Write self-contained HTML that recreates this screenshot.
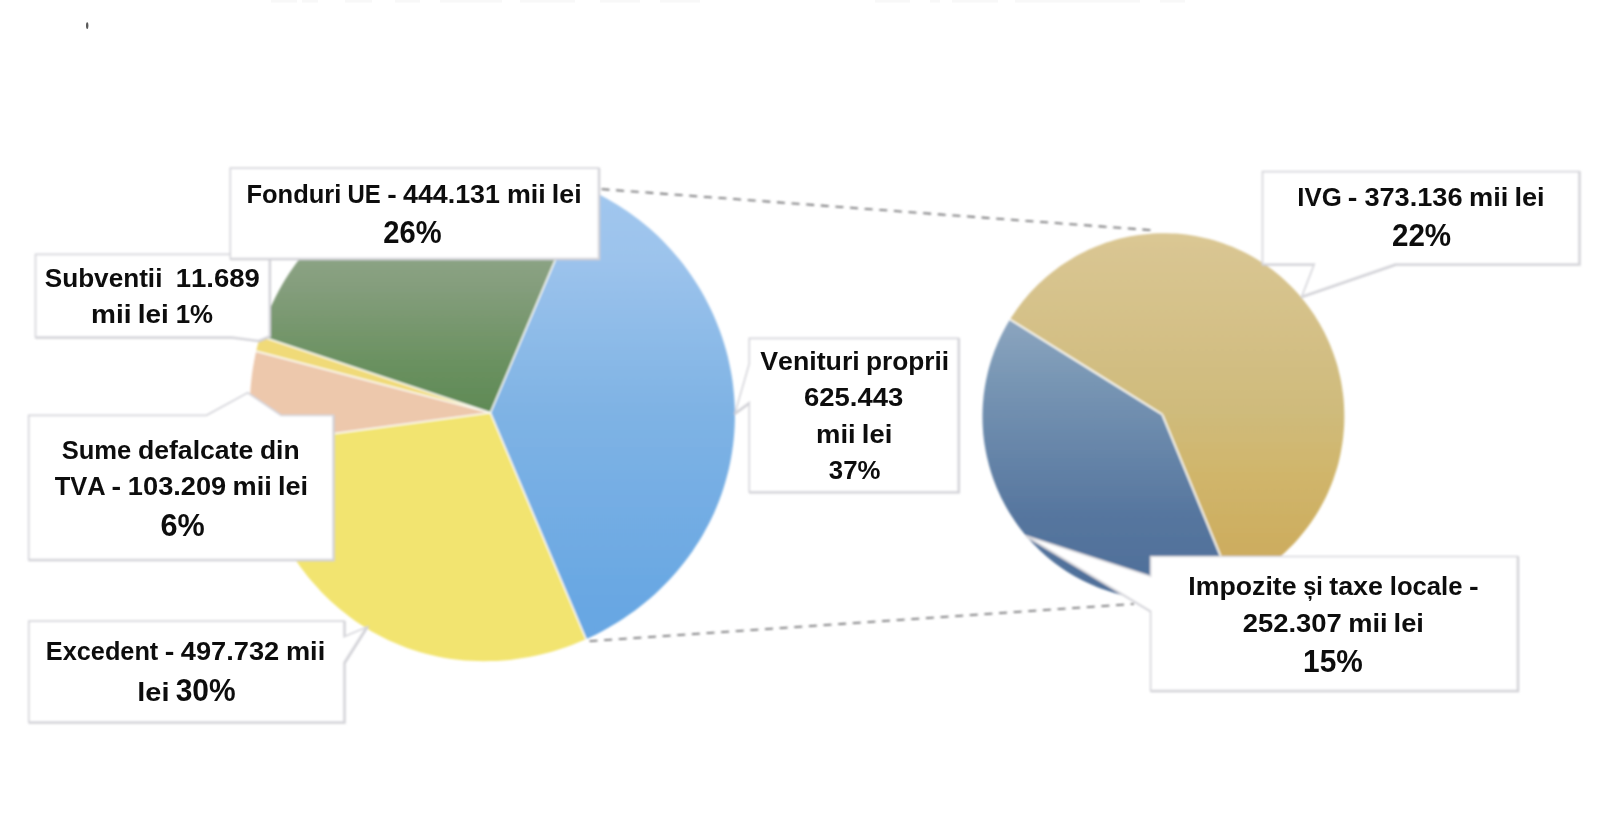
<!DOCTYPE html>
<html lang="ro"><head><meta charset="utf-8"><title>Grafic venituri</title>
<style>html,body{margin:0;padding:0;background:#fff}body{width:1600px;height:837px;overflow:hidden}svg{display:block}text{font-family:"Liberation Sans",sans-serif;font-weight:bold;fill:#0d0d0d;font-kerning:none}</style></head><body>
<svg width="1600" height="837" viewBox="0 0 1600 837">
<defs>
<clipPath id="lp"><path d="M249.8 412.7L250.0 419.0L250.3 425.3L250.8 431.6L251.4 437.8L252.1 444.1L253.0 450.3L254.0 456.5L255.2 462.7L256.5 468.8L258.0 475.0L259.6 481.1L261.3 487.1L263.2 493.2L265.2 499.2L267.3 505.1L269.6 511.0L272.0 516.8L274.6 522.6L277.3 528.4L280.2 534.1L283.2 539.7L286.3 545.2L289.6 550.7L293.0 556.1L296.6 561.4L300.3 566.7L304.1 571.8L308.1 576.9L312.2 581.8L316.5 586.6L320.9 591.4L325.4 596.0L330.0 600.5L334.8 604.8L339.7 609.1L344.8 613.1L349.9 617.1L355.2 620.9L360.6 624.6L366.1 628.0L371.7 631.4L377.4 634.6L383.1 637.6L389.0 640.4L395.0 643.1L401.0 645.5L407.1 647.9L413.3 650.0L419.5 651.9L425.8 653.7L432.2 655.3L438.5 656.7L445.0 657.9L451.4 658.9L457.9 659.7L464.4 660.4L470.9 660.8L477.4 661.1L483.9 661.2L490.4 661.1L496.9 660.9L503.4 660.5L509.9 659.9L516.3 659.1L522.7 658.1L529.1 657.0L535.4 655.7L541.8 654.3L548.0 652.7L554.2 650.9L560.4 649.0L566.5 646.9L572.6 644.7L578.5 642.3L584.5 639.8L590.3 637.2L596.1 634.4L601.8 631.4L607.5 628.3L613.0 625.1L618.5 621.8L623.9 618.3L629.2 614.6L634.4 610.9L639.5 607.0L644.5 603.0L649.4 598.9L654.3 594.7L659.0 590.3L663.5 585.8L668.0 581.2L672.4 576.5L676.6 571.7L680.7 566.8L684.7 561.8L688.5 556.7L692.3 551.4L695.8 546.1L699.3 540.7L702.6 535.2L705.7 529.6L708.7 523.9L711.6 518.2L714.3 512.4L716.8 506.5L719.2 500.5L721.4 494.5L723.4 488.4L725.3 482.3L727.0 476.1L728.6 469.9L730.0 463.6L731.2 457.3L732.2 451.0L733.1 444.7L733.8 438.3L734.3 431.9L734.7 425.5L734.9 419.1L734.9 412.7L734.8 406.3L734.4 399.9L733.9 393.5L733.3 387.2L732.5 380.8L731.5 374.5L730.3 368.2L729.0 362.0L727.6 355.8L725.9 349.6L724.1 343.5L722.2 337.4L720.1 331.4L717.8 325.4L715.4 319.5L712.9 313.7L710.2 307.9L707.3 302.2L704.3 296.5L701.2 291.0L697.9 285.5L694.5 280.2L691.0 274.9L687.3 269.7L683.5 264.6L679.5 259.6L675.4 254.7L671.3 249.9L666.9 245.2L662.5 240.6L658.0 236.1L653.3 231.8L648.5 227.6L643.6 223.5L638.6 219.5L633.5 215.7L628.4 212.0L623.1 208.4L617.7 205.0L612.2 201.7L606.7 198.5L601.1 195.5L595.3 192.7L589.6 190.0L583.7 187.4L577.8 185.0L571.8 182.8L565.8 180.7L559.7 178.7L553.6 177.0L547.4 175.4L541.2 173.9L534.9 172.6L528.6 171.5L522.3 170.5L515.9 169.7L509.6 169.1L503.2 168.6L496.8 168.3L490.4 168.2L484.0 168.2L477.6 168.4L471.2 168.7L464.8 169.2L458.4 169.9L452.1 170.8L445.8 171.8L439.4 173.0L433.2 174.3L426.9 175.9L420.7 177.5L414.6 179.4L408.5 181.4L402.4 183.5L396.4 185.9L390.5 188.4L384.7 191.0L378.9 193.8L373.2 196.8L367.5 199.9L362.0 203.2L356.5 206.6L351.2 210.1L345.9 213.9L340.8 217.7L335.7 221.7L330.8 225.9L326.0 230.1L321.3 234.5L316.8 239.1L312.3 243.7L308.0 248.5L303.9 253.4L299.9 258.4L296.0 263.5L292.3 268.7L288.7 274.1L285.2 279.5L282.0 285.0L278.9 290.6L275.9 296.2L273.1 302.0L270.4 307.8L268.0 313.7L265.6 319.6L263.5 325.6L261.5 331.6L259.6 337.7L258.0 343.8L256.4 350.0L255.1 356.2L253.9 362.4L252.8 368.7L251.9 374.9L251.2 381.2L250.6 387.5L250.2 393.8L249.9 400.1L249.8 406.4Z"/></clipPath>
<clipPath id="rp"><path d="M982.5 414.6L982.5 419.3L982.6 424.0L982.9 428.7L983.2 433.4L983.7 438.1L984.3 442.8L985.1 447.4L985.9 452.1L986.9 456.7L988.0 461.3L989.2 465.9L990.5 470.4L991.9 474.9L993.5 479.4L995.1 483.8L996.9 488.2L998.8 492.6L1000.8 496.9L1002.9 501.1L1005.1 505.3L1007.5 509.5L1009.9 513.6L1012.5 517.6L1015.1 521.5L1017.9 525.4L1020.7 529.2L1023.7 533.0L1026.8 536.6L1029.9 540.2L1033.2 543.7L1036.5 547.1L1039.9 550.5L1043.5 553.7L1047.1 556.9L1050.8 559.9L1054.6 562.9L1058.4 565.8L1062.3 568.5L1066.3 571.2L1070.4 573.7L1074.6 576.2L1078.8 578.5L1083.1 580.7L1087.4 582.8L1091.8 584.8L1096.2 586.7L1100.7 588.5L1105.3 590.1L1109.9 591.6L1114.5 593.0L1119.2 594.3L1123.9 595.4L1128.6 596.4L1133.4 597.3L1138.1 598.1L1143.0 598.7L1147.8 599.2L1152.6 599.5L1157.5 599.8L1162.3 599.9L1167.2 599.8L1172.0 599.7L1176.8 599.4L1181.7 598.9L1186.5 598.4L1191.3 597.7L1196.1 596.9L1200.8 595.9L1205.6 594.8L1210.3 593.6L1214.9 592.3L1219.6 590.8L1224.2 589.3L1228.7 587.6L1233.2 585.7L1237.6 583.8L1242.0 581.7L1246.3 579.5L1250.6 577.2L1254.8 574.8L1258.9 572.3L1263.0 569.6L1267.0 566.9L1270.9 564.0L1274.7 561.1L1278.5 558.0L1282.1 554.9L1285.7 551.7L1289.2 548.3L1292.6 544.9L1295.9 541.4L1299.1 537.8L1302.2 534.1L1305.2 530.3L1308.1 526.5L1311.0 522.6L1313.7 518.6L1316.3 514.6L1318.7 510.5L1321.1 506.3L1323.4 502.1L1325.6 497.8L1327.6 493.4L1329.5 489.1L1331.4 484.6L1333.1 480.1L1334.6 475.6L1336.1 471.1L1337.5 466.5L1338.7 461.9L1339.8 457.2L1340.8 452.5L1341.6 447.8L1342.4 443.1L1343.0 438.4L1343.5 433.6L1343.9 428.9L1344.2 424.1L1344.3 419.4L1344.3 414.6L1344.2 409.8L1344.0 405.1L1343.7 400.3L1343.2 395.6L1342.6 390.9L1341.9 386.2L1341.1 381.5L1340.1 376.8L1339.0 372.2L1337.9 367.6L1336.6 363.0L1335.1 358.4L1333.6 353.9L1331.9 349.5L1330.2 345.1L1328.3 340.7L1326.3 336.4L1324.2 332.1L1322.0 327.9L1319.7 323.7L1317.2 319.7L1314.7 315.6L1312.1 311.7L1309.3 307.8L1306.5 304.0L1303.5 300.2L1300.5 296.6L1297.4 293.0L1294.2 289.5L1290.8 286.1L1287.4 282.7L1284.0 279.5L1280.4 276.3L1276.7 273.3L1273.0 270.3L1269.2 267.5L1265.3 264.7L1261.3 262.1L1257.3 259.6L1253.2 257.1L1249.1 254.8L1244.8 252.6L1240.6 250.5L1236.2 248.5L1231.9 246.6L1227.4 244.9L1223.0 243.2L1218.5 241.7L1213.9 240.3L1209.3 239.1L1204.7 237.9L1200.1 236.9L1195.4 236.0L1190.7 235.2L1186.0 234.6L1181.3 234.0L1176.5 233.6L1171.8 233.4L1167.0 233.2L1162.3 233.2L1157.6 233.3L1152.8 233.5L1148.1 233.9L1143.4 234.4L1138.7 235.0L1134.0 235.7L1129.3 236.5L1124.7 237.5L1120.1 238.6L1115.5 239.8L1110.9 241.2L1106.4 242.6L1102.0 244.2L1097.5 245.9L1093.2 247.7L1088.8 249.6L1084.6 251.7L1080.4 253.8L1076.2 256.0L1072.1 258.4L1068.1 260.9L1064.1 263.4L1060.2 266.1L1056.4 268.9L1052.7 271.7L1049.0 274.7L1045.4 277.7L1041.9 280.9L1038.5 284.1L1035.1 287.4L1031.9 290.8L1028.7 294.3L1025.6 297.9L1022.6 301.5L1019.8 305.2L1017.0 309.0L1014.3 312.9L1011.7 316.8L1009.2 320.8L1006.8 324.8L1004.5 328.9L1002.4 333.1L1000.3 337.3L998.3 341.6L996.5 345.9L994.7 350.3L993.1 354.7L991.6 359.1L990.2 363.6L988.9 368.1L987.7 372.7L986.7 377.3L985.7 381.9L984.9 386.5L984.2 391.2L983.6 395.8L983.2 400.5L982.8 405.2L982.6 409.9Z"/></clipPath>
<linearGradient id="gBlue" gradientUnits="userSpaceOnUse" x1="0" y1="190" x2="0" y2="660"><stop offset="0.000" stop-color="#A1C7EE"/><stop offset="0.149" stop-color="#9CC3EC"/><stop offset="0.468" stop-color="#7FB3E4"/><stop offset="0.851" stop-color="#6AA8E3"/><stop offset="1.000" stop-color="#65A5E2"/></linearGradient>
<linearGradient id="gGreen" gradientUnits="userSpaceOnUse" x1="0" y1="258" x2="0" y2="413"><stop offset="0.000" stop-color="#8BA384"/><stop offset="0.174" stop-color="#859E7D"/><stop offset="0.723" stop-color="#68905E"/><stop offset="1.000" stop-color="#608A56"/></linearGradient>
<linearGradient id="gTan" gradientUnits="userSpaceOnUse" x1="0" y1="233" x2="0" y2="560"><stop offset="0.000" stop-color="#DAC794"/><stop offset="0.113" stop-color="#D8C48F"/><stop offset="0.541" stop-color="#CFBB7C"/><stop offset="0.725" stop-color="#D0B66C"/><stop offset="0.908" stop-color="#CEAF62"/><stop offset="1.000" stop-color="#CDAC5F"/></linearGradient>
<linearGradient id="gDBlue" gradientUnits="userSpaceOnUse" x1="0" y1="320" x2="0" y2="596"><stop offset="0.000" stop-color="#8CA5BF"/><stop offset="0.217" stop-color="#7896B4"/><stop offset="0.725" stop-color="#55759E"/><stop offset="1.000" stop-color="#4E6F99"/></linearGradient>
<filter id="soft" x="-2%" y="-2%" width="104%" height="104%"><feGaussianBlur stdDeviation="0.85"/></filter>
<filter id="softT" x="-2%" y="-10%" width="104%" height="120%"><feGaussianBlur stdDeviation="0.6"/></filter>
<filter id="softB" x="-2%" y="-2%" width="104%" height="104%"><feGaussianBlur stdDeviation="0.55"/></filter>
</defs>
<rect width="1600" height="837" fill="#ffffff"/>
<g fill="#f8f8f8" filter="url(#softB)">
<rect x="271" y="0" width="26" height="2.6"/>
<rect x="302" y="0" width="16" height="2.6"/>
<rect x="345" y="0" width="27" height="2.6"/>
<rect x="395" y="0" width="25" height="2.6"/>
<rect x="440" y="0" width="62" height="2.6"/>
<rect x="520" y="0" width="55" height="2.6"/>
<rect x="600" y="0" width="40" height="2.6"/>
<rect x="660" y="0" width="40" height="2.6"/>
<rect x="875" y="0" width="35" height="2.6"/>
<rect x="930" y="0" width="10" height="2.6"/>
<rect x="952" y="0" width="46" height="2.6"/>
<rect x="1015" y="0" width="125" height="2.6"/>
<rect x="1160" y="0" width="25" height="2.6"/>
</g>
<ellipse cx="87.2" cy="25.6" rx="1.2" ry="3.4" fill="#5a5a5a" filter="url(#softB)"/>
<g filter="url(#soft)">
<g clip-path="url(#lp)">
<polygon fill="url(#gBlue)" points="490.4,412.7 762.8,1057.5 817.6,1031.5 869.9,1000.9 919.4,965.8 965.7,926.6 1008.4,883.5 1047.2,836.9 1081.9,787.1 1112.1,734.5 1137.6,679.4 1158.2,622.4 1173.9,563.8 1184.4,504.1 1189.7,443.6 1189.8,383.0 1184.6,322.5 1174.2,262.8 1158.6,204.1 1138.0,147.1 1112.6,92.0 1082.5,39.3 1048.0,-10.5 1009.2,-57.2 966.6,-100.4 920.4,-139.7 871.0,-174.8 818.7,-205.6 763.9,-231.7"/>
<polygon fill="url(#gGreen)" points="490.4,412.7 763.9,-231.7 707.0,-253.0 648.4,-269.2 588.6,-280.4 528.1,-286.3 467.3,-286.9 406.6,-282.3 346.6,-272.4 287.7,-257.3 230.3,-237.2 174.9,-212.2 121.9,-182.4 71.6,-148.2 24.5,-109.7 -19.1,-67.3 -58.8,-21.3 -94.4,28.0 -125.6,80.2 -152.1,134.9 -173.8,191.7"/>
<polygon fill="#F0DA78" points="490.4,412.7 -173.8,191.7 -186.7,235.1"/>
<polygon fill="#EDC8AC" points="490.4,412.7 -186.7,235.1 -198.5,288.3 -206.0,342.2 -209.4,396.6 -208.5,451.0 -203.5,505.3"/>
<polygon fill="#F2E470" points="490.4,412.7 -203.5,505.3 -193.3,562.9 -178.4,619.4 -158.8,674.5 -134.7,727.7 -106.2,778.8 -73.6,827.3 -37.1,872.9 3.2,915.3 46.8,954.2 93.5,989.3 143.0,1020.4 195.0,1047.3 249.0,1069.7 304.6,1087.6 361.6,1100.7 419.4,1109.1 477.8,1112.6 536.2,1111.2 594.4,1104.9 651.8,1093.8 708.0,1078.0 762.8,1057.5"/>
<g stroke="#fbfbf4" stroke-width="1.6">
<line x1="490.4" y1="412.7" x2="762.8" y2="1057.5"/>
<line x1="490.4" y1="412.7" x2="763.9" y2="-231.7"/>
<line x1="490.4" y1="412.7" x2="-173.8" y2="191.7"/>
<line x1="490.4" y1="412.7" x2="-186.7" y2="235.1"/>
<line x1="490.4" y1="412.7" x2="-203.5" y2="505.3"/>
</g></g>
<g clip-path="url(#rp)">
<polygon fill="url(#gTan)" points="1162.3,414.6 1429.0,1061.8 1483.4,1036.6 1535.3,1006.9 1584.5,972.9 1630.7,934.8 1673.4,892.9 1712.4,847.5 1747.4,798.9 1778.1,747.5 1804.2,693.7 1825.7,637.9 1842.4,580.4 1854.1,521.7 1860.7,462.2 1862.2,402.4 1858.6,342.6 1849.9,283.4 1836.2,225.2 1817.5,168.3 1794.1,113.2 1766.1,60.4 1733.6,10.1 1697.0,-37.2 1656.4,-81.2 1612.3,-121.6 1564.8,-158.1 1514.4,-190.4 1461.5,-218.3 1406.3,-241.5 1349.4,-259.9 1291.1,-273.5 1231.8,-281.9 1172.1,-285.3 1112.3,-283.6 1052.8,-276.8 994.1,-264.9 936.7,-248.1 880.9,-226.4 827.2,-200.0 775.9,-169.1 727.5,-134.0 682.2,-94.8 640.5,-52.0 602.5,-5.7 568.7,43.7"/>
<polygon fill="url(#gDBlue)" points="1162.3,414.6 568.7,43.7 538.7,96.6 513.5,151.9 493.1,209.2 477.8,268.1 467.7,328.0 462.8,388.7 463.2,449.5 468.8,510.0 479.7,569.8 495.8,628.5 516.9,685.6 542.8,740.5 573.4,793.1 608.5,842.8 647.8,889.2 690.9,932.1 737.6,971.0 787.5,1005.8 840.2,1036.1 895.4,1061.7 952.6,1082.4 1011.3,1098.1 1071.2,1108.6 1131.8,1113.9 1192.6,1113.9 1253.2,1108.7 1313.1,1098.2 1371.9,1082.5 1429.0,1061.8"/>
<g stroke="#fbfbf4" stroke-width="1.8">
<line x1="1162.3" y1="414.6" x2="1429.0" y2="1061.8"/>
<line x1="1162.3" y1="414.6" x2="568.7" y2="43.7"/>
</g></g>
<g stroke="#767678" stroke-width="1.8" stroke-dasharray="8 6.66" stroke-dashoffset="-2" fill="none">
<line x1="599.5" y1="189.0" x2="1153.0" y2="230.3"/>
<line x1="587.5" y1="641.3" x2="1134.0" y2="603.9"/>
</g>
<g filter="url(#softB)" stroke-linejoin="miter">
<path d="M35.5 254.3H269.4V336.0L258.5 340.6L232 337.0H35.5Z" transform="translate(0.7 0.7)" fill="none" stroke="#cbcbd0" stroke-width="1.9"/>
<path d="M35.5 254.3H269.4V336.0L258.5 340.6L232 337.0H35.5Z" fill="#ffffff" stroke="#D6D6DB" stroke-width="1.7"/>
<path d="M230.3 168.2H598.6V258.6H230.3Z" transform="translate(0.7 0.7)" fill="none" stroke="#cbcbd0" stroke-width="1.9"/>
<path d="M230.3 168.2H598.6V258.6H230.3Z" fill="#ffffff" stroke="#D6D6DB" stroke-width="1.7"/>
<path d="M28.7 415.3H206.5L247.7 392.8L281.0 415.3H333.1V559.6H28.7Z" transform="translate(0.7 0.7)" fill="none" stroke="#cbcbd0" stroke-width="1.9"/>
<path d="M28.7 415.3H206.5L247.7 392.8L281.0 415.3H333.1V559.6H28.7Z" fill="#ffffff" stroke="#D6D6DB" stroke-width="1.7"/>
<path d="M28.8 621.2H344.0V636.7L366.3 627.3L344.0 662.6V722.0H28.8Z" transform="translate(0.7 0.7)" fill="none" stroke="#cbcbd0" stroke-width="1.9"/>
<path d="M28.8 621.2H344.0V636.7L366.3 627.3L344.0 662.6V722.0H28.8Z" fill="#ffffff" stroke="#D6D6DB" stroke-width="1.7"/>
<path d="M749.3 338.3H958.3V491.9H749.3V402.4L735.2 412.6L749.3 363.7Z" transform="translate(0.7 0.7)" fill="none" stroke="#cbcbd0" stroke-width="1.9"/>
<path d="M749.3 338.3H958.3V491.9H749.3V402.4L735.2 412.6L749.3 363.7Z" fill="#ffffff" stroke="#D6D6DB" stroke-width="1.7"/>
<path d="M1262.5 171.6H1579.0V264.1H1395.3L1301.9 296.3L1314.3 264.1H1262.5Z" transform="translate(0.7 0.7)" fill="none" stroke="#cbcbd0" stroke-width="1.9"/>
<path d="M1262.5 171.6H1579.0V264.1H1395.3L1301.9 296.3L1314.3 264.1H1262.5Z" fill="#ffffff" stroke="#D6D6DB" stroke-width="1.7"/>
<path d="M1150.6 556.5H1517.5V690.5H1150.6V611.3L1025.8 535.8L1150.6 576.2Z" transform="translate(0.7 0.7)" fill="none" stroke="#cbcbd0" stroke-width="1.9"/>
<path d="M1150.6 556.5H1517.5V690.5H1150.6V611.3L1025.8 535.8L1150.6 576.2Z" fill="#ffffff" stroke="#D6D6DB" stroke-width="1.7"/>
</g>
</g>
<g filter="url(#softT)">
<text y="202.50"><tspan x="246.50" font-size="26.50" textLength="94.76" lengthAdjust="spacingAndGlyphs">Fonduri</tspan> <tspan x="347.59" font-size="26.50" textLength="33.24" lengthAdjust="spacingAndGlyphs">UE</tspan> <tspan x="387.30" font-size="26.50" textLength="9.49" lengthAdjust="spacingAndGlyphs">-</tspan> <tspan x="402.97" font-size="26.50" textLength="96.94" lengthAdjust="spacingAndGlyphs">444.131</tspan> <tspan x="506.97" font-size="26.50" textLength="38.80" lengthAdjust="spacingAndGlyphs">mii</tspan> <tspan x="551.75" font-size="26.50" textLength="29.85" lengthAdjust="spacingAndGlyphs">lei</tspan></text>
<text y="243.10"><tspan x="383.29" font-size="31.20" textLength="58.28" lengthAdjust="spacingAndGlyphs">26%</tspan></text>
<text y="287.10"><tspan x="44.75" font-size="26.50" textLength="117.64" lengthAdjust="spacingAndGlyphs">Subventii</tspan> <tspan x="175.75" font-size="26.50" textLength="84.18" lengthAdjust="spacingAndGlyphs">11.689</tspan></text>
<text y="323.10"><tspan x="91.05" font-size="26.50" textLength="40.47" lengthAdjust="spacingAndGlyphs">mii</tspan> <tspan x="137.77" font-size="26.50" textLength="31.13" lengthAdjust="spacingAndGlyphs">lei</tspan> <tspan x="175.65" font-size="26.50" textLength="37.33" lengthAdjust="spacingAndGlyphs">1%</tspan></text>
<text y="458.60"><tspan x="61.66" font-size="26.50" textLength="69.63" lengthAdjust="spacingAndGlyphs">Sume</tspan> <tspan x="137.91" font-size="26.50" textLength="115.41" lengthAdjust="spacingAndGlyphs">defalcate</tspan> <tspan x="259.90" font-size="26.50" textLength="39.64" lengthAdjust="spacingAndGlyphs">din</tspan></text>
<text y="495.20"><tspan x="54.81" font-size="26.50" textLength="50.94" lengthAdjust="spacingAndGlyphs">TVA</tspan> <tspan x="111.56" font-size="26.50" textLength="9.60" lengthAdjust="spacingAndGlyphs">-</tspan> <tspan x="127.88" font-size="26.50" textLength="98.33" lengthAdjust="spacingAndGlyphs">103.209</tspan> <tspan x="232.62" font-size="26.50" textLength="39.25" lengthAdjust="spacingAndGlyphs">mii</tspan> <tspan x="277.93" font-size="26.50" textLength="30.19" lengthAdjust="spacingAndGlyphs">lei</tspan></text>
<text y="535.50"><tspan x="160.48" font-size="31.20" textLength="44.23" lengthAdjust="spacingAndGlyphs">6%</tspan></text>
<text y="660.40"><tspan x="45.81" font-size="26.50" textLength="112.49" lengthAdjust="spacingAndGlyphs">Excedent</tspan> <tspan x="164.89" font-size="26.50" textLength="9.60" lengthAdjust="spacingAndGlyphs">-</tspan> <tspan x="180.75" font-size="26.50" textLength="98.50" lengthAdjust="spacingAndGlyphs">497.732</tspan> <tspan x="285.97" font-size="26.50" textLength="39.26" lengthAdjust="spacingAndGlyphs">mii</tspan></text>
<text y="700.90"><tspan x="137.28" font-size="26.50" textLength="32.17" lengthAdjust="spacingAndGlyphs">lei</tspan> <tspan x="175.71" font-size="31.20" textLength="59.98" lengthAdjust="spacingAndGlyphs">30%</tspan></text>
<text y="369.50"><tspan x="760.22" font-size="26.50" textLength="99.54" lengthAdjust="spacingAndGlyphs">Venituri</tspan> <tspan x="865.88" font-size="26.50" textLength="83.18" lengthAdjust="spacingAndGlyphs">proprii</tspan></text>
<text y="406.00"><tspan x="803.99" font-size="26.50" textLength="99.30" lengthAdjust="spacingAndGlyphs">625.443</tspan></text>
<text y="442.50"><tspan x="816.09" font-size="26.50" textLength="39.64" lengthAdjust="spacingAndGlyphs">mii</tspan> <tspan x="861.85" font-size="26.50" textLength="30.49" lengthAdjust="spacingAndGlyphs">lei</tspan></text>
<text y="479.40"><tspan x="828.81" font-size="26.50" textLength="51.67" lengthAdjust="spacingAndGlyphs">37%</tspan></text>
<text y="205.90"><tspan x="1297.27" font-size="26.50" textLength="44.46" lengthAdjust="spacingAndGlyphs">IVG</tspan> <tspan x="1347.87" font-size="26.50" textLength="9.61" lengthAdjust="spacingAndGlyphs">-</tspan> <tspan x="1364.41" font-size="26.50" textLength="98.18" lengthAdjust="spacingAndGlyphs">373.136</tspan> <tspan x="1469.05" font-size="26.50" textLength="39.29" lengthAdjust="spacingAndGlyphs">mii</tspan> <tspan x="1514.40" font-size="26.50" textLength="30.22" lengthAdjust="spacingAndGlyphs">lei</tspan></text>
<text y="246.40"><tspan x="1391.97" font-size="31.20" textLength="59.21" lengthAdjust="spacingAndGlyphs">22%</tspan></text>
<text y="595.30"><tspan x="1188.21" font-size="26.50" textLength="108.40" lengthAdjust="spacingAndGlyphs">Impozite</tspan> <tspan x="1303.25" font-size="26.50" textLength="19.59" lengthAdjust="spacingAndGlyphs">și</tspan> <tspan x="1329.22" font-size="26.50" textLength="53.78" lengthAdjust="spacingAndGlyphs">taxe</tspan> <tspan x="1389.75" font-size="26.50" textLength="72.76" lengthAdjust="spacingAndGlyphs">locale</tspan> <tspan x="1469.02" font-size="26.50" textLength="9.63" lengthAdjust="spacingAndGlyphs">-</tspan></text>
<text y="631.55"><tspan x="1242.80" font-size="26.50" textLength="98.96" lengthAdjust="spacingAndGlyphs">252.307</tspan> <tspan x="1348.15" font-size="26.50" textLength="39.40" lengthAdjust="spacingAndGlyphs">mii</tspan> <tspan x="1393.62" font-size="26.50" textLength="30.31" lengthAdjust="spacingAndGlyphs">lei</tspan></text>
<text y="672.30"><tspan x="1303.12" font-size="31.20" textLength="59.66" lengthAdjust="spacingAndGlyphs">15%</tspan></text>
</g>
</svg></body></html>
